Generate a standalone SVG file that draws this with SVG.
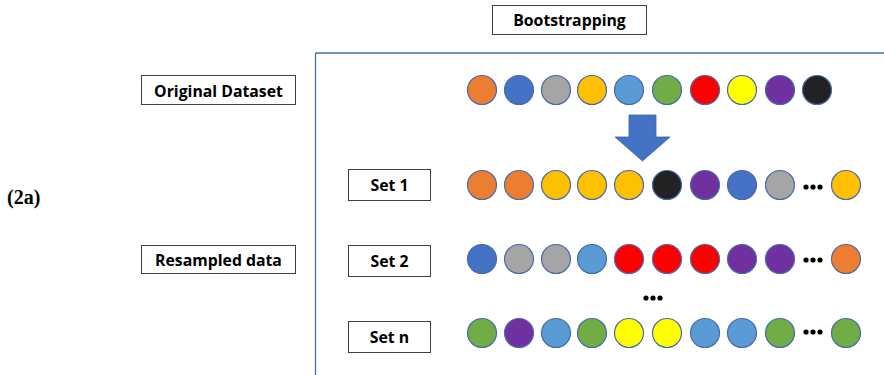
<svg xmlns="http://www.w3.org/2000/svg" width="884" height="375" viewBox="0 0 884 375">
<style>
.box{fill:#fff;stroke:#404040;stroke-width:1}
.lbl{font-family:"Open Sans","Liberation Sans",sans-serif;font-weight:bold;font-size:15.8px;fill:#000;text-anchor:middle}
.ser{font-family:"Liberation Serif","DejaVu Serif",serif;font-weight:bold;font-size:20px;fill:#000}
.c{stroke:#4a6aa8;stroke-width:1.2}
.dot{fill:#000}
</style>
<rect width="884" height="375" fill="#fff"/>
<g id="frame" fill="none" stroke="#4a6aa8" stroke-width="1.3">
<line x1="315.5" y1="53" x2="884" y2="53"/>
<line x1="315.5" y1="53" x2="315.5" y2="375"/>
</g>
<text class="ser" x="7" y="204">(2a)</text>
<g id="bootstrapping"><rect class="box" x="492.5" y="5.5" width="154" height="29"/><text class="lbl" x="569.5" y="26">Bootstrapping</text></g>
<g id="original"><rect class="box" x="141.5" y="75.5" width="154" height="29"/><text class="lbl" x="218.5" y="97">Original Dataset</text></g>
<g id="resampled"><rect class="box" x="141.5" y="245.5" width="154" height="28"/><text class="lbl" x="218.5" y="266">Resampled data</text></g>
<g id="set1"><rect class="box" x="348.5" y="169.5" width="82" height="31"/><text class="lbl" x="389.5" y="191">Set 1</text></g>
<g id="set2"><rect class="box" x="348.5" y="245.5" width="82" height="31"/><text class="lbl" x="389.5" y="267">Set 2</text></g>
<g id="setn"><rect class="box" x="348.5" y="321.5" width="82" height="31"/><text class="lbl" x="389.5" y="343">Set n</text></g>
<g id="original-row">
<circle class="c" cx="482" cy="90" r="14.5" fill="#ED7D31"/>
<circle class="c" cx="519" cy="90" r="14.5" fill="#4472C4"/>
<circle class="c" cx="556" cy="90" r="14.5" fill="#A5A5A5"/>
<circle class="c" cx="592" cy="90" r="14.5" fill="#FFC000"/>
<circle class="c" cx="629" cy="90" r="14.5" fill="#5B9BD5"/>
<circle class="c" cx="667" cy="90" r="14.5" fill="#70AD47"/>
<circle class="c" cx="705" cy="90" r="14.5" fill="#FF0000"/>
<circle class="c" cx="742" cy="90" r="14.5" fill="#FFFF00"/>
<circle class="c" cx="780" cy="90" r="14.5" fill="#7030A0"/>
<circle class="c" cx="817" cy="90" r="14.5" fill="#222222"/>
</g>
<g id="arrow"><polygon points="629,115 656,115 656,137 670,137 642.5,161 615,137 629,137" fill="#4472C4" stroke="#3a62a8" stroke-width="0.8"/></g>
<g id="set1-row">
<circle class="c" cx="482" cy="185" r="14.5" fill="#ED7D31"/>
<circle class="c" cx="519" cy="185" r="14.5" fill="#ED7D31"/>
<circle class="c" cx="556" cy="185" r="14.5" fill="#FFC000"/>
<circle class="c" cx="592" cy="185" r="14.5" fill="#FFC000"/>
<circle class="c" cx="629" cy="185" r="14.5" fill="#FFC000"/>
<circle class="c" cx="667" cy="185" r="14.5" fill="#222222"/>
<circle class="c" cx="705" cy="185" r="14.5" fill="#7030A0"/>
<circle class="c" cx="742" cy="185" r="14.5" fill="#4472C4"/>
<circle class="c" cx="780" cy="185" r="14.5" fill="#A5A5A5"/>
<circle class="dot" cx="806" cy="187" r="2.6"/><circle class="dot" cx="813" cy="187" r="2.6"/><circle class="dot" cx="820" cy="187" r="2.6"/>
<circle class="c" cx="846" cy="185" r="14.5" fill="#FFC000"/>
</g>
<g id="set2-row">
<circle class="c" cx="482" cy="259" r="14.5" fill="#4472C4"/>
<circle class="c" cx="519" cy="259" r="14.5" fill="#A5A5A5"/>
<circle class="c" cx="556" cy="259" r="14.5" fill="#A5A5A5"/>
<circle class="c" cx="592" cy="259" r="14.5" fill="#5B9BD5"/>
<circle class="c" cx="629" cy="259" r="14.5" fill="#FF0000"/>
<circle class="c" cx="667" cy="259" r="14.5" fill="#FF0000"/>
<circle class="c" cx="705" cy="259" r="14.5" fill="#FF0000"/>
<circle class="c" cx="742" cy="259" r="14.5" fill="#7030A0"/>
<circle class="c" cx="780" cy="259" r="14.5" fill="#7030A0"/>
<circle class="dot" cx="806" cy="260" r="2.6"/><circle class="dot" cx="813" cy="260" r="2.6"/><circle class="dot" cx="820" cy="260" r="2.6"/>
<circle class="c" cx="846" cy="259" r="14.5" fill="#ED7D31"/>
</g>
<g id="mid-dots">
<circle class="dot" cx="646" cy="298" r="2.6"/><circle class="dot" cx="653" cy="298" r="2.6"/><circle class="dot" cx="660" cy="298" r="2.6"/>
</g>
<g id="setn-row">
<circle class="c" cx="482" cy="333" r="14.5" fill="#70AD47"/>
<circle class="c" cx="519" cy="333" r="14.5" fill="#7030A0"/>
<circle class="c" cx="556" cy="333" r="14.5" fill="#5B9BD5"/>
<circle class="c" cx="592" cy="333" r="14.5" fill="#70AD47"/>
<circle class="c" cx="629" cy="333" r="14.5" fill="#FFFF00"/>
<circle class="c" cx="667" cy="333" r="14.5" fill="#FFFF00"/>
<circle class="c" cx="705" cy="333" r="14.5" fill="#5B9BD5"/>
<circle class="c" cx="742" cy="333" r="14.5" fill="#5B9BD5"/>
<circle class="c" cx="780" cy="333" r="14.5" fill="#70AD47"/>
<circle class="dot" cx="806" cy="332" r="2.6"/><circle class="dot" cx="813" cy="332" r="2.6"/><circle class="dot" cx="820" cy="332" r="2.6"/>
<circle class="c" cx="846" cy="333" r="14.5" fill="#70AD47"/>
</g>
</svg>
